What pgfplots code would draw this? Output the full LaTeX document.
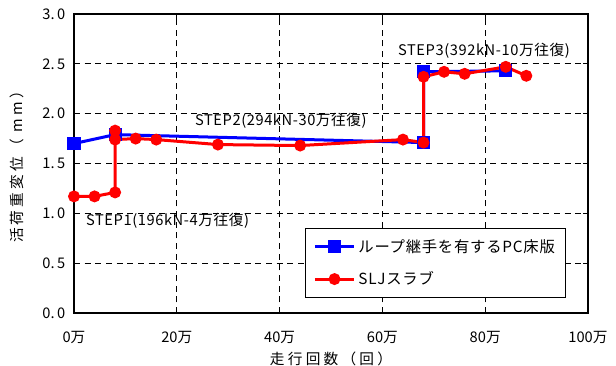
\documentclass[border=0pt]{standalone}
\usepackage{fontspec}
\setmainfont{Noto Sans CJK JP}
\usepackage{pgfplots}
\pgfplotsset{compat=1.18}
\newcommand{\annfont}{\fontsize{11pt}{13pt}\selectfont\addfontfeature{LetterSpace=4}}
\newcommand{\labfont}{\fontsize{11pt}{13pt}\selectfont\addfontfeature{LetterSpace=22}}
\begin{document}
\begin{tikzpicture}
\begin{axis}[
  name=ax,
  scale only axis,
  width=385.5pt, height=224.25pt,
  xmin=0, xmax=100, ymin=0, ymax=3,
  xtick={0,20,40,60,80,100},
  xticklabels={0万,20万,40万,60万,80万,100万},
  ytick={0,0.5,1,1.5,2,2.5,3},
  yticklabels={0.\,0,0.\,5,1.\,0,1.\,5,2.\,0,2.\,5,3.\,0},
  /pgf/number format/assume math mode=true,
  tick label style={font=\fontsize{11pt}{13pt}\selectfont},
  xticklabel style={yshift=-10.5pt},
  yticklabel style={xshift=-3pt},
  major tick length=4pt,
  tick style={black, line width=0.6pt},
  axis line style={black, line width=1pt},
  grid=major,
  major grid style={black, line width=0.6pt, dash pattern=on 4.5pt off 3.5pt},
  xlabel={走行回数（回）},
  ylabel={活荷重変位（ mm）},
  label style={font=\labfont},
  xlabel style={yshift=1pt},
  ylabel style={yshift=7pt},
  legend style={at={(0.449,0.284)}, anchor=north west, draw=black, line width=0.75pt,
    font=\fontsize{11.5pt}{13pt}\selectfont\addfontfeature{LetterSpace=5}, row sep=9pt, inner xsep=6pt, inner ysep=6pt},
  legend cell align=left,
  legend image code/.code={\draw[mark repeat=2,mark phase=2] plot coordinates {(0cm,0cm)(0.52cm,0cm)(1.04cm,0cm)};},
]
\addplot[blue, line width=2.25pt, mark=square*, mark size=3.8pt, mark options={solid, blue}]
  coordinates {(0,1.70) (8,1.79) (68,1.71) (68,2.42) (84,2.43)};
\addlegendentry{ループ継手を有するPC床版}
\addplot[red, line width=2.25pt, mark=*, mark size=3.3pt, mark options={solid, red}]
  coordinates {(0,1.17) (4,1.17) (8,1.21) (8,1.83) (8,1.74) (12,1.75) (16,1.74) (28,1.69) (44,1.68) (64,1.74) (68,1.71) (68,2.37) (72,2.42) (76,2.40) (84,2.47) (88,2.38)};
\addlegendentry{SLJスラブ}
\node[anchor=west, font=\annfont, inner sep=0pt] at (axis cs:2.3,0.93) {STEP1(196kN-4万往復)};
\node[anchor=west, font=\annfont, inner sep=0pt] at (axis cs:23.5,1.93) {STEP2(294kN-30万往復)};
\node[anchor=west, font=\annfont, inner sep=0pt] at (axis cs:63.0,2.63) {STEP3(392kN-10万往復)};
\end{axis}
\pgfresetboundingbox
\path (ax.south west) ++(-55.5pt,-39pt) coordinate (bl);
\path (ax.north east) ++(21pt,10.5pt) coordinate (tr);
\path (bl) rectangle (tr);
\end{tikzpicture}
\end{document}
